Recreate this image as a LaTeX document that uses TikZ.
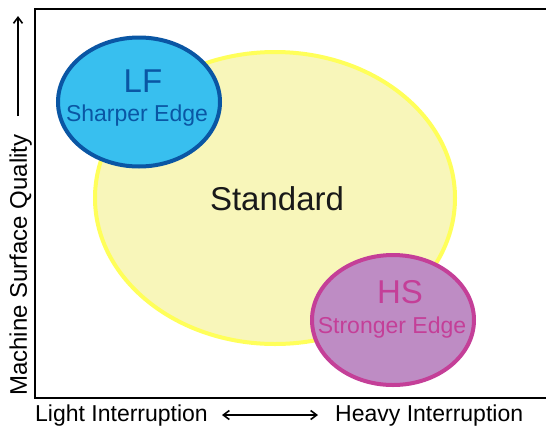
\documentclass[tikz,border=0pt]{standalone}
\usepackage{fontspec}
\setmainfont{Liberation Sans}
\usetikzlibrary{shapes.geometric,arrows.meta}
\definecolor{ylwfill}{HTML}{F8F6BA}
\definecolor{ylwline}{HTML}{FFFF5A}
\definecolor{lffill}{HTML}{38BFEF}
\definecolor{lfline}{HTML}{0A56A4}
\definecolor{hsfill}{HTML}{BE8CC4}
\definecolor{hsline}{HTML}{C43F98}
\begin{document}
\begin{tikzpicture}[x=1pt,y=-1pt,
  blob/.style={ellipse,inner sep=0pt},
  big/.style={font=\fontsize{33}{36}\selectfont,anchor=base},
  small/.style={font=\fontsize{23}{27}\selectfont,anchor=base},
  axarrow/.style={line width=1.6pt,-{Straight Barb[length=6pt,width=9pt,line width=1.6pt]}},
  axarrows/.style={line width=1.6pt,{Straight Barb[length=6pt,width=9pt,line width=1.6pt]}-{Straight Barb[length=6pt,width=9pt,line width=1.6pt]}}]
\useasboundingbox (0,0) rectangle (546,426);
\fill[white] (0,0) rectangle (546,426);
% frame
\draw[line width=2pt] (560,9) -- (35,9) -- (35,398) -- (560,398);
% ellipses
\node[blob,draw=ylwline,fill=ylwfill,line width=4pt,minimum width=360pt,minimum height=292pt] (std) at (275,198) {};
\node[blob,draw=lfline,fill=lffill,line width=4pt,minimum width=162pt,minimum height=129pt] (lf) at (139,102) {};
\node[blob,draw=hsline,fill=hsfill,line width=4pt,minimum width=162pt,minimum height=130pt] (hs) at (393,320) {};
% texts
\node[big,text=black!90] (stdt) at (277,210) {Standard};
\node[big,text=lfline] (lft) at (143,92) {LF};
\node[small,text=lfline] (lfs) at (137,121) {Sharper Edge};
\node[big,text=hsline] (hst) at (400,303) {HS};
\node[small,text=hsline] (hss) at (392,333) {Stronger Edge};
% axes labels
\node[small,anchor=base west,inner sep=0pt] (light) at (35,421) {Light Interruption};
\node[small,anchor=base west,inner sep=0pt] (heavy) at (335,421) {Heavy Interruption};
\coordinate (xa) at (222,415);
\coordinate (xb) at (318,415);
\draw[axarrows] (xa) -- (xb);
\node[font=\fontsize{24}{27}\selectfont,anchor=base west,inner sep=0pt,rotate=90] (qual) at (27,396) {Machine Surface Quality};
\coordinate (ya) at (18,116);
\coordinate (yb) at (18,16);
\draw[axarrow] (ya) -- (yb);
\end{tikzpicture}
\end{document}
